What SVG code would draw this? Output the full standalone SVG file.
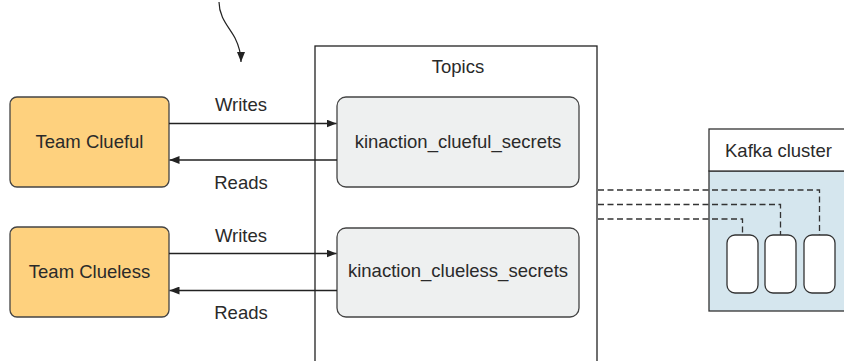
<svg xmlns="http://www.w3.org/2000/svg" width="844" height="361" viewBox="0 0 844 361">
<defs>
<marker id="ah" viewBox="0 0 10 8" refX="10" refY="4" markerWidth="10" markerHeight="8" markerUnits="userSpaceOnUse" orient="auto">
<path d="M0,0 L10,4 L0,8 Z" fill="#222"/>
</marker>
<style>
text{font-family:"Liberation Sans",Arial,sans-serif;font-size:18.5px;fill:#2a2a2a}
.team{fill:#fed17e;stroke:#444;stroke-width:1.3}
.topic{fill:#eef0f0;stroke:#444;stroke-width:1.3}
.conn{stroke:#222;stroke-width:1.3;fill:none}
.dash{stroke:#333;stroke-width:1.3;fill:none;stroke-dasharray:6 3.5}
.broker{fill:#fff;stroke:#333;stroke-width:1.3}
</style>
</defs>
<rect width="844" height="361" fill="#fff"/>

<g id="topics">
<rect x="315" y="46" width="282" height="330" fill="#fff" stroke="#222" stroke-width="1.3"/>
<text x="458" y="73" text-anchor="middle">Topics</text>
</g>

<g id="team-clueful">
<rect class="team" x="10" y="97" width="159" height="90" rx="7"/>
<text x="89.5" y="148" text-anchor="middle">Team Clueful</text>
</g>
<g id="team-clueless">
<rect class="team" x="10" y="227" width="159" height="90" rx="7"/>
<text x="89.5" y="278" text-anchor="middle">Team Clueless</text>
</g>

<g id="topic-clueful">
<rect class="topic" x="337" y="97" width="242" height="90" rx="9"/>
<text x="458" y="148" text-anchor="middle">kinaction_clueful_secrets</text>
</g>
<g id="topic-clueless">
<rect class="topic" x="337" y="228" width="242" height="89" rx="9"/>
<text x="458" y="277" text-anchor="middle">kinaction_clueless_secrets</text>
</g>

<g id="kafka-cluster">
<rect x="709" y="171" width="140" height="140" fill="#d5e6ee" stroke="#333" stroke-width="1.3"/>
<rect x="709" y="129" width="140" height="42" fill="#fff" stroke="#333" stroke-width="1.3"/>
<text x="725" y="156.5">Kafka cluster</text>
</g>
<g id="broker-1"><rect class="broker" x="727" y="235" width="31" height="58" rx="8"/></g>
<g id="broker-2"><rect class="broker" x="765" y="235" width="31" height="58" rx="8"/></g>
<g id="broker-3"><rect class="broker" x="804" y="235" width="31" height="58" rx="8"/></g>

<g id="connectors">
<path class="conn" d="M169,123.5 H336.5" marker-end="url(#ah)"/>
<path class="conn" d="M337,160 H169.5" marker-end="url(#ah)"/>
<path class="conn" d="M169,253.5 H336.5" marker-end="url(#ah)"/>
<path class="conn" d="M337,290.5 H169.5" marker-end="url(#ah)"/>
<text x="241" y="110.5" text-anchor="middle">Writes</text>
<text x="241" y="188.5" text-anchor="middle">Reads</text>
<text x="241" y="241.5" text-anchor="middle">Writes</text>
<text x="241" y="318.5" text-anchor="middle">Reads</text>
<path class="dash" d="M598,190 H819.5 V235"/>
<path class="dash" d="M598,204.5 H780.5 V235"/>
<path class="dash" d="M598,219 H742.5 V235"/>
<path d="M219,2 C219,18 230,28 235,38 C239,46 241,52 241,62" fill="none" stroke="#222" stroke-width="1.2" marker-end="url(#ah)"/>
</g>
</svg>
